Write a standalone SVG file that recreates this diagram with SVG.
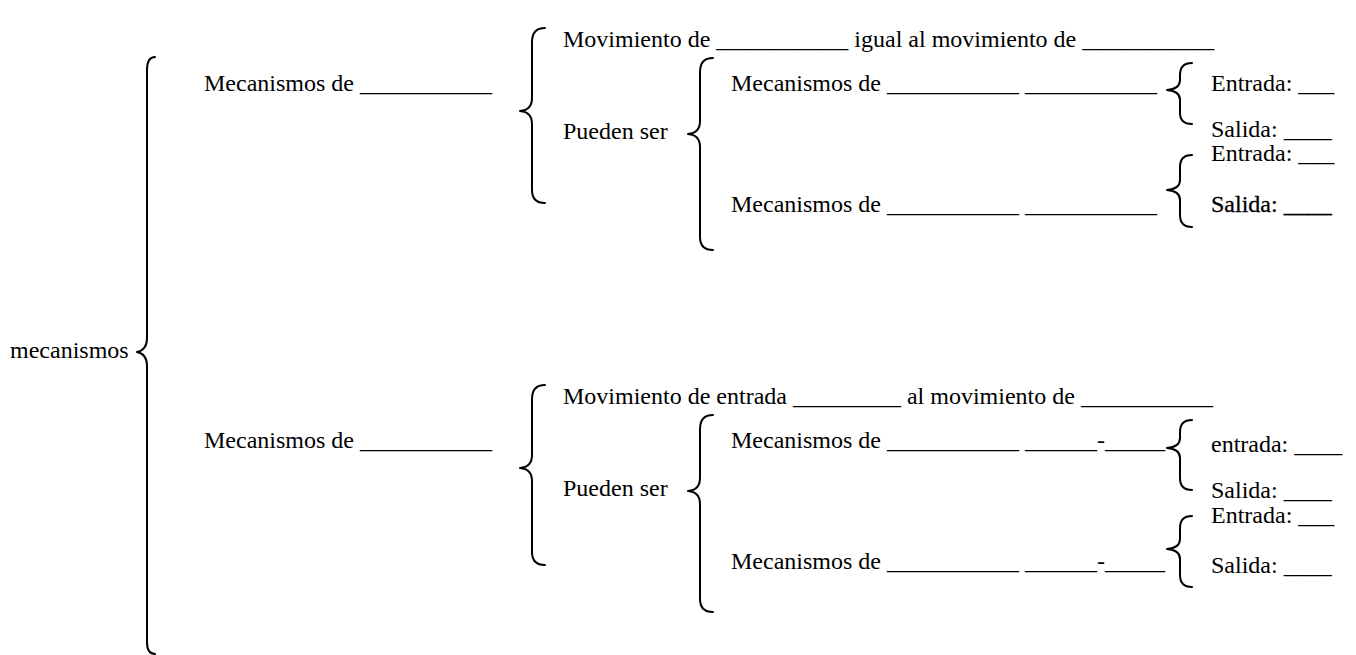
<svg xmlns="http://www.w3.org/2000/svg" width="1356" height="655" viewBox="0 0 1356 655">
  <style>
    text { font-family: "Liberation Serif", "Times New Roman", serif; font-size: 24px; fill: #000; }
    .brace { fill: none; stroke: #000; stroke-width: 2; stroke-linecap: round; stroke-linejoin: round; }
    .heavy { stroke: #000; stroke-width: 0.3; }
  </style>
  <rect width="1356" height="655" fill="#fff"/>

  <!-- braces joining each term to its parts -->
  <g id="connectors">
    <path class="brace" d="M155,57 Q147,57 147,70 L147,338 Q147,350 137,352 Q147,354 147,366 L147,642 Q147,654 155,654"/>
    <!-- upper branch -->
    <path class="brace" d="M545,28 Q532,28 532,42 L532,98 Q532,110 520,111 Q532,112 532,124 L532,190 Q532,203 545,203"/>
    <path class="brace" d="M713,58 Q700,58 700,72 L700,121 Q700,133 688,134 Q700,135 700,147 L700,237 Q700,250 713,250"/>
    <path class="brace" d="M1192,63 Q1180,63 1180,75 L1180,80 Q1180,89 1167,90 Q1180,91 1180,100 L1180,113 Q1180,124 1192,124"/>
    <path class="brace" d="M1192,155 Q1180,155 1180,167 L1180,180 Q1180,189 1167,190 Q1180,191 1180,200 L1180,215 Q1180,227 1192,227"/>
    <!-- lower branch -->
    <path class="brace" d="M545,385 Q532,385 532,399 L532,455 Q532,467 520,468 Q532,469 532,481 L532,552 Q532,565 545,565"/>
    <path class="brace" d="M713,415 Q700,415 700,429 L700,478 Q700,490 688,491 Q700,492 700,504 L700,599 Q700,612 713,612"/>
    <path class="brace" d="M1192,420 Q1180,420 1180,432 L1180,438 Q1180,447 1167,448 Q1180,449 1180,458 L1180,478 Q1180,490 1192,490"/>
    <path class="brace" d="M1192,516 Q1180,516 1180,528 L1180,539 Q1180,548 1167,549 Q1180,550 1180,559 L1180,575 Q1180,587 1192,587"/>
  </g>

  <g id="root"><text x="10" y="358">mecanismos</text></g>

  <!-- upper branch -->
  <g id="tipo-1"><text x="204" y="91">Mecanismos de ___________</text></g>
  <g id="movimiento-1"><text x="563" y="47">Movimiento de ___________ igual al movimiento de ___________</text></g>
  <g id="pueden-1"><text x="563" y="139">Pueden ser</text></g>
  <g id="mec-1a"><text x="731" y="91">Mecanismos de ___________ ___________</text></g>
  <g id="mec-1b"><text x="731" y="212">Mecanismos de ___________ ___________</text></g>
  <g id="es-1a">
    <text x="1211" y="91">Entrada: ___</text>
    <text x="1211" y="137">Salida: ____</text>
  </g>
  <g id="es-1b">
    <text x="1211" y="161">Entrada: ___</text>
    <text class="heavy" x="1211" y="212">Salida: ____</text>
  </g>

  <!-- lower branch -->
  <g id="tipo-2"><text x="204" y="448">Mecanismos de ___________</text></g>
  <g id="movimiento-2"><text x="563" y="404">Movimiento de entrada _________ al movimiento de ___________</text></g>
  <g id="pueden-2"><text x="563" y="496">Pueden ser</text></g>
  <g id="mec-2a"><text x="731" y="448">Mecanismos de ___________ ______-_____</text></g>
  <g id="mec-2b"><text x="731" y="569">Mecanismos de ___________ ______-_____</text></g>
  <g id="es-2a">
    <text x="1211" y="452">entrada: ____</text>
    <text x="1211" y="498">Salida: ____</text>
  </g>
  <g id="es-2b">
    <text x="1211" y="523">Entrada: ___</text>
    <text x="1211" y="573">Salida: ____</text>
  </g>
</svg>
